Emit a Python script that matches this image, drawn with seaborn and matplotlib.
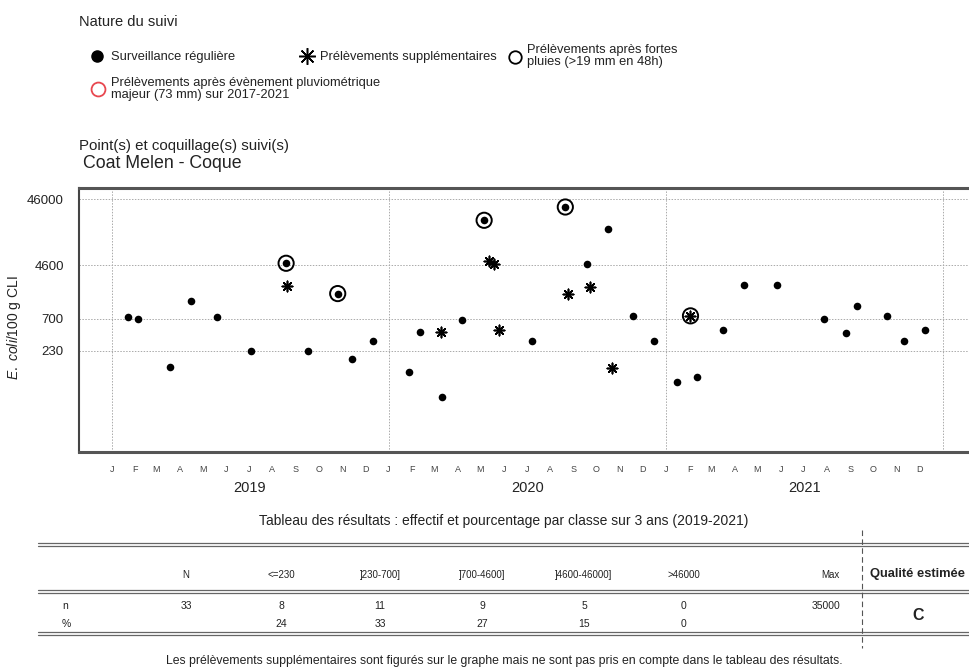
import numpy as np
import pandas as pd
import matplotlib
matplotlib.use('Agg')
import matplotlib.pyplot as plt
import seaborn as sns

# surveillance reguliere (33 prelevements)
regular_dates = ['2019-01-22', '2019-02-05', '2019-03-19', '2019-04-16', '2019-05-20', '2019-07-04',
                 '2019-08-19', '2019-09-17', '2019-10-26', '2019-11-14', '2019-12-11',
                 '2020-01-28', '2020-02-11', '2020-03-12', '2020-04-07', '2020-05-06', '2020-07-08',
                 '2020-08-21', '2020-09-18', '2020-10-16', '2020-11-18', '2020-12-16',
                 '2021-01-15', '2021-02-11', '2021-03-17', '2021-04-14', '2021-05-27', '2021-07-28',
                 '2021-08-26', '2021-09-10', '2021-10-19', '2021-11-10', '2021-12-08']
regular_values = [750, 690, 130, 1300, 760, 230,
                  4900, 230, 1700, 170, 320,
                  110, 440, 45, 680, 22000, 320,
                  35000, 4800, 16000, 780, 320,
                  78, 92, 480, 2300, 2300, 700,
                  430, 1100, 780, 320, 480]

# prelevements supplementaires
supp_dates = ['2019-08-20', '2020-03-10', '2020-05-12', '2020-05-19', '2020-05-26',
              '2020-08-25', '2020-09-22', '2020-10-22', '2021-02-02']
supp_values = [2240, 440, 5300, 4750, 470, 1660, 2160, 128, 780]

# prelevements apres fortes pluies
rain_dates = ['2019-08-19', '2019-10-26', '2020-05-06', '2020-08-21', '2021-02-02']
rain_values = [4900, 1700, 22000, 35000, 780]

y_ticks = [230, 700, 4600, 46000]
month_letters = ['J', 'F', 'M', 'A', 'M', 'J', 'J', 'A', 'S', 'O', 'N', 'D']
years = [2019, 2020, 2021]

table_header = ['N', '<=230', ']230-700]', ']700-4600]', ']4600-46000]', '>46000']
row_n = ['33', '8', '11', '9', '5', '0']
row_pct = ['', '24', '33', '27', '15', '0']
max_value = '35000'
quality = 'C'

sns.set_style('white')
plt.rcParams['font.family'] = ['Liberation Sans', 'DejaVu Sans']
plt.rcParams['mathtext.fontset'] = 'custom'
plt.rcParams['mathtext.it'] = 'Liberation Sans:italic'
plt.rcParams['mathtext.rm'] = 'Liberation Sans'

W, H = 969, 672
fig = plt.figure(figsize=(W / 100, H / 100), dpi=100)

def fx(px):
    return px / W

def fy(py):
    return 1 - py / H

ax = fig.add_axes([fx(79), fy(452), fx(975) - fx(79), fy(188) - fy(452)])

reg = pd.DataFrame({'date': pd.to_datetime(regular_dates), 'value': regular_values})
sup = pd.DataFrame({'date': pd.to_datetime(supp_dates), 'value': supp_values})
rain = pd.DataFrame({'date': pd.to_datetime(rain_dates), 'value': rain_values})

sns.scatterplot(data=reg, x='date', y='value', ax=ax, color='black', s=30, linewidth=0, zorder=4)
sns.scatterplot(data=sup, x='date', y='value', ax=ax, marker=(8, 2, 0), color='black', s=55,
                linewidth=1.2, zorder=4)
sns.scatterplot(data=rain, x='date', y='value', ax=ax, marker='o', facecolor='none', edgecolor='black',
                s=120, linewidth=1.4, zorder=4)

ax.set_yscale('log')
ax.set_ylim(6.7, 68000)
ax.set_xlim(pd.Timestamp('2018-11-19'), pd.Timestamp('2022-02-12'))

ax.set_yticks(y_ticks)
ax.set_yticklabels([str(v) for v in y_ticks])
ax.yaxis.set_minor_locator(matplotlib.ticker.NullLocator())

month_starts = pd.date_range('2019-01-01', '2021-12-01', freq='MS')
ax.set_xticks(month_starts)
ax.set_xticklabels([month_letters[d.month - 1] for d in month_starts])
ax.tick_params(axis='x', length=5.5, width=0.8, color='#777777', labelsize=6.5, labelcolor='#444444', pad=4)
ax.tick_params(axis='y', length=9, width=0.9, color='#555555', labelsize=9.5, labelcolor='#222222', pad=2)

for v in y_ticks:
    ax.axhline(v, color='#aaaaaa', lw=0.7, ls=(0, (1.5, 1.5)), zorder=1)
for yr in [2019, 2020, 2021, 2022]:
    ax.axvline(pd.Timestamp(f'{yr}-01-01'), color='#aaaaaa', lw=0.7, ls=(0, (1.5, 1.5)), zorder=1)

for yr in years:
    ax.text(pd.Timestamp(f'{yr}-07-02'), -0.137, str(yr), transform=ax.get_xaxis_transform(),
            ha='center', va='center', fontsize=10.5, color='#222222')

ax.set_xlabel('')
ax.set_ylabel(r'$\mathit{E.\ coli}$/100 g CLI', fontsize=10, color='#222222')
ax.yaxis.set_label_coords(-0.063, 0.47)

for side in ['top', 'bottom']:
    ax.spines[side].set_color('#555555')
    ax.spines[side].set_linewidth(2.2)
ax.spines['left'].set_color('#444444')
ax.spines['left'].set_linewidth(1.5)
ax.spines['right'].set_visible(False)

# overlay in pixel coordinates for legend, headings and table
lax = fig.add_axes([0, 0, 1, 1], zorder=-1)
lax.set_xlim(0, W)
lax.set_ylim(H, 0)
lax.axis('off')

txt = '#222222'
lax.text(79, 22, 'Nature du suivi', fontsize=10.5, color=txt, va='center')
lax.plot([97], [56], marker='o', color='black', ms=8, ls='none')
lax.text(111, 57, 'Surveillance régulière', fontsize=9.3, color=txt, va='center')
lax.plot([307], [56], marker=(8, 2, 0), color='black', ms=12, mew=1.1, ls='none')
lax.text(320, 57, 'Prélèvements supplémentaires', fontsize=9.3, color=txt, va='center')
lax.plot([515], [57], marker='o', mfc='none', mec='black', ms=9, mew=1.3, ls='none')
lax.text(527, 56, 'Prélèvements après fortes\npluies (>19 mm en 48h)', fontsize=9.3, color=txt,
         va='center', linespacing=1.05)
lax.plot([98], [89], marker='o', mfc='none', mec='#e8474f', ms=10, mew=1.3, ls='none')
lax.text(111, 89, 'Prélèvements après évènement pluviométrique\nmajeur (73 mm) sur 2017-2021', fontsize=9.3,
         color=txt, va='center', linespacing=1.05)

lax.text(79, 146, 'Point(s) et coquillage(s) suivi(s)', fontsize=10.8, color=txt, va='center')
lax.text(83, 163, 'Coat Melen - Coque', fontsize=12.8, color=txt, va='center')

# table
lax.text(504, 521, 'Tableau des résultats : effectif et pourcentage par classe sur 3 ans (2019-2021)',
         fontsize=10, color=txt, ha='center', va='center')
for y0 in [543, 590, 632]:
    lax.plot([38, 969], [y0, y0], color='#666666', lw=0.9)
    lax.plot([38, 969], [y0 + 2.5, y0 + 2.5], color='#666666', lw=0.9)
lax.plot([862, 862], [530, 648], color='#555555', lw=0.8, ls=(0, (5, 3)))

col_x = [186, 281, 380, 482, 584, 684]
for x, h, n, p in zip(col_x, table_header, row_n, row_pct):
    lax.text(x, 575, h, fontsize=7, color=txt, ha='center', va='center')
    lax.text(x, 606, n, fontsize=7.5, color=txt, ha='center', va='center')
    lax.text(x, 624, p, fontsize=7.5, color=txt, ha='center', va='center')
lax.text(62, 606, 'n', fontsize=7.5, color=txt, ha='left', va='center')
lax.text(62, 624, '%', fontsize=7.5, color=txt, ha='left', va='center')
lax.text(840, 575, 'Max', fontsize=7, color=txt, ha='right', va='center')
lax.text(840, 606, max_value, fontsize=7.5, color=txt, ha='right', va='center')
lax.text(918, 574, 'Qualité estimée', fontsize=9.3, fontweight='bold', color=txt, ha='center', va='center')
lax.text(918, 615, quality, fontsize=11.5, fontweight='bold', color=txt, ha='center', va='center')

lax.text(504, 661, 'Les prélèvements supplémentaires sont figurés sur le graphe mais ne sont pas pris en '
         'compte dans le tableau des résultats.', fontsize=8.8, color=txt, ha='center', va='center')

fig.savefig('out.png', dpi=100)
